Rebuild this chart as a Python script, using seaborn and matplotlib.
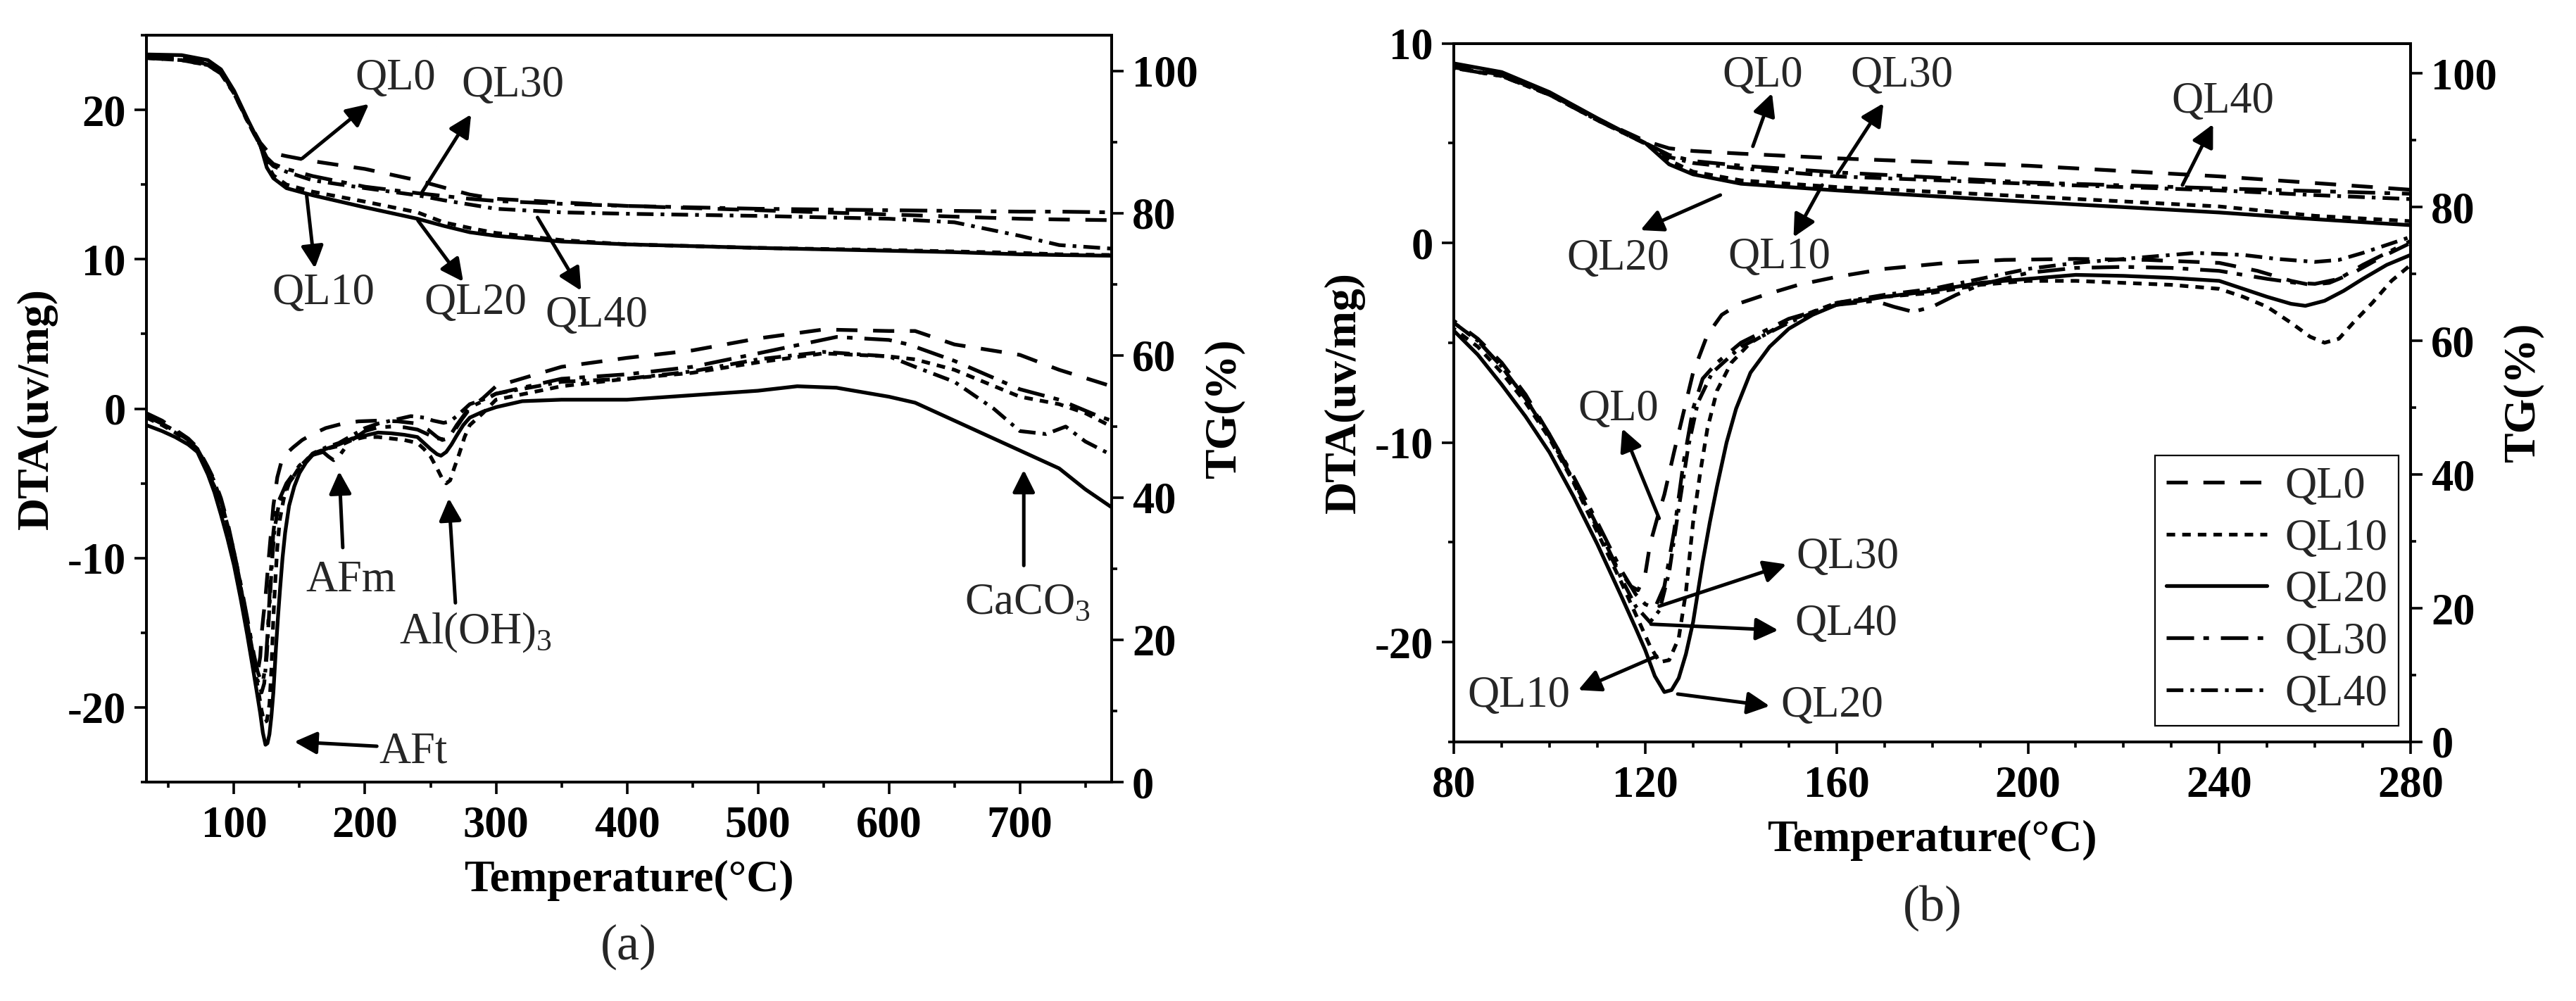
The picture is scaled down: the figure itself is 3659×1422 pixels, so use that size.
import numpy as np
import pandas as pd
import seaborn as sns
import matplotlib.pyplot as plt
from matplotlib.lines import Line2D
from matplotlib.ticker import MultipleLocator

samples = ['QL0', 'QL10', 'QL20', 'QL30', 'QL40']

# DTA curves (uv/mg)
dta_temp_ql0 = [33, 45, 55, 65, 72, 80, 85, 90, 95, 100, 105, 110, 114, 117, 118.5, 120, 121, 122.5,
                124, 126, 128, 130, 133, 136, 140, 145, 152, 160, 170, 183, 195, 210, 225, 240, 248,
                255, 259, 263, 268, 274, 280, 290, 300, 350, 400, 450, 500, 550, 600, 620, 650, 700,
                730, 770]
dta_ql0 = [-0.3, -0.8, -1.4, -2.0, -2.6, -3.9, -4.8, -6.0, -7.6, -9.6, -11.8, -14.2, -16.2, -17.2,
           -17.4, -16.6, -15.1, -13.8, -12.6, -10.5, -8.5, -6.5, -4.6, -3.6, -3.0, -2.6, -2.1, -1.7,
           -1.3, -1.0, -0.85, -0.8, -0.85, -1.0, -1.4, -1.9, -2.1, -2.0, -1.5, -0.7, 0.0, 0.7, 1.5,
           2.8, 3.4, 3.9, 4.7, 5.3, 5.2, 5.2, 4.3, 3.6, 2.6, 1.5]

dta_temp_ql10 = [33, 45, 55, 65, 72, 80, 85, 90, 95, 100, 105, 110, 115, 118, 121, 123, 125, 127,
                 128.5, 130, 131.5, 133, 135, 138, 142, 150, 160, 170, 180, 190, 200, 210, 220, 230,
                 240, 245, 250, 255, 259, 262, 265, 268, 272, 276, 280, 290, 300, 350, 400, 450, 500,
                 550, 600, 620, 650, 700, 730, 750, 770]
dta_ql10 = [-0.6, -1.1, -1.6, -2.2, -2.8, -4.3, -5.2, -6.5, -8.0, -9.8, -12.0, -14.5, -17.0, -18.6,
            -20.2, -21.0, -20.9, -19.8, -17.5, -14.0, -11.5, -9.3, -7.4, -6.0, -5.0, -3.9, -3.0,
            -2.7, -2.5, -2.1, -1.9, -1.9, -2.0, -2.1, -2.3, -2.7, -3.2, -4.0, -4.7, -5.0, -4.8, -4.0,
            -3.0, -1.9, -1.1, -0.3, 0.6, 1.5, 2.0, 2.4, 3.1, 3.7, 3.5, 3.3, 2.6, 0.8, 0.3, -0.3, -1.2]

dta_temp_ql20 = [33, 45, 55, 65, 72, 80, 85, 90, 95, 100, 105, 110, 115, 118, 120, 122, 124, 125.5,
                 127, 128.5, 130, 131, 132, 133.5, 135, 137, 139, 142, 146, 150, 155, 160, 170, 180,
                 190, 200, 210, 220, 230, 240, 245, 250, 255, 258, 262, 266, 270, 275, 280, 290, 300,
                 320, 350, 400, 450, 500, 530, 560, 580, 600, 620, 650, 680, 700, 730, 750, 770]
dta_ql20 = [-1.1, -1.5, -1.9, -2.4, -2.9, -4.4, -5.6, -7.1, -8.7, -10.5, -12.7, -15.1, -17.7, -19.3,
            -20.4, -21.7, -22.5, -22.4, -21.8, -20.6, -19.0, -17.5, -16.0, -14.0, -12.2, -10.0, -8.3,
            -6.5, -5.2, -4.3, -3.6, -3.1, -2.7, -2.4, -2.0, -1.8, -1.6, -1.65, -1.75, -1.9, -2.3,
            -2.7, -3.05, -3.15, -2.9, -2.4, -1.8, -1.1, -0.6, -0.2, 0.1, 0.5, 0.6, 0.6, 0.9, 1.2,
            1.5, 1.4, 1.1, 0.8, 0.4, -0.8, -2.0, -2.8, -4.0, -5.4, -6.6]

dta_temp_ql30 = [33, 45, 55, 65, 72, 80, 85, 90, 95, 100, 105, 110, 115, 118, 120, 122, 124, 126,
                 128, 130, 132, 135, 140, 150, 160, 168, 172, 176, 180, 185, 190, 200, 210, 220, 230,
                 240, 250, 256, 260, 265, 270, 275, 280, 290, 300, 350, 400, 450, 500, 560, 600, 615,
                 650, 700, 730, 760, 770]
dta_ql30 = [-0.5, -1.0, -1.5, -2.1, -2.7, -4.0, -4.9, -6.2, -7.8, -9.6, -11.7, -14.0, -16.4, -17.6,
            -18.1, -18.3, -17.2, -14.5, -11.0, -8.3, -6.8, -6.0, -5.0, -3.8, -3.1, -2.9, -3.2, -3.45,
            -3.2, -2.6, -2.1, -1.5, -1.25, -1.2, -1.25, -1.4, -1.8, -2.0, -2.05, -1.8, -1.1, -0.5,
            0.1, 0.5, 1.0, 2.0, 2.3, 2.8, 3.7, 4.8, 4.6, 4.3, 3.2, 1.3, 0.6, -0.5, -0.8]

dta_temp_ql40 = [33, 45, 55, 65, 72, 80, 85, 90, 95, 100, 105, 110, 115, 118, 121, 123, 125, 127,
                 129, 131, 134, 140, 150, 160, 170, 180, 190, 200, 210, 220, 235, 245, 252, 260, 265,
                 270, 275, 280, 290, 300, 350, 400, 450, 500, 550, 600, 620, 650, 680, 700, 720, 735,
                 750, 770]
dta_ql40 = [-0.5, -1.0, -1.5, -2.1, -2.7, -4.0, -4.9, -6.2, -7.8, -9.7, -11.9, -14.3, -16.8, -18.2,
            -19.0, -18.4, -16.5, -13.3, -10.2, -8.0, -6.5, -5.2, -4.0, -3.0, -2.6, -2.3, -1.8, -1.3,
            -1.0, -0.8, -0.5, -0.6, -0.8, -0.95, -0.85, -0.5, -0.1, 0.3, 0.6, 1.0, 1.8, 2.0, 2.5,
            3.3, 3.8, 3.5, 2.8, 1.8, 0.0, -1.5, -1.7, -1.2, -2.2, -3.1]

# TG curves (%), one temperature grid for all samples
tg_temp = [33, 60, 80, 90, 100, 110, 120, 125, 130, 140, 160, 200, 240, 260, 280, 300, 350, 400,
           500, 600, 650, 700, 730, 770]
tg_ql0 = [102.0, 101.8, 101.0, 99.8, 97.0, 93.2, 89.9, 88.8, 88.4, 88.0, 87.3, 86.2, 84.6, 83.6,
          82.6, 82.0, 81.5, 81.0, 80.4, 79.8, 79.5, 79.2, 79.1, 79.0]
tg_ql10 = [101.8, 101.5, 100.8, 99.6, 96.8, 93.0, 89.5, 87.0, 85.3, 84.0, 83.0, 81.6, 80.1, 78.7,
           77.9, 77.2, 76.2, 75.6, 75.1, 74.8, 74.6, 74.4, 74.2, 74.1]
tg_ql20 = [102.3, 102.2, 101.5, 100.2, 97.2, 93.3, 89.6, 86.4, 84.9, 83.5, 82.5, 80.8, 79.2, 78.2,
           77.3, 76.8, 76.0, 75.6, 75.1, 74.7, 74.5, 74.2, 74.1, 74.0]
tg_ql30 = [102.0, 101.7, 100.9, 99.7, 96.9, 93.1, 89.6, 87.8, 86.9, 86.2, 85.2, 83.7, 82.8, 82.4,
           82.0, 81.7, 81.3, 81.0, 80.6, 80.4, 80.3, 80.2, 80.2, 80.1]
tg_ql40 = [101.8, 101.5, 100.8, 99.6, 96.8, 93.0, 89.5, 87.5, 86.6, 85.8, 84.6, 83.5, 82.5, 81.8,
           81.2, 80.6, 80.1, 79.9, 79.6, 79.2, 78.7, 76.8, 75.5, 75.0]

dta_temps = [dta_temp_ql0, dta_temp_ql10, dta_temp_ql20, dta_temp_ql30, dta_temp_ql40]
dta_values = [dta_ql0, dta_ql10, dta_ql20, dta_ql30, dta_ql40]
tg_values = [tg_ql0, tg_ql10, tg_ql20, tg_ql30, tg_ql40]

dta = pd.concat([pd.DataFrame({'temp': t, 'value': v, 'sample': s})
                 for s, t, v in zip(samples, dta_temps, dta_values)], ignore_index=True)
tg = pd.concat([pd.DataFrame({'temp': tg_temp, 'value': v, 'sample': s})
                for s, v in zip(samples, tg_values)], ignore_index=True)

# dash patterns in units of line width
dash_styles = {
    'QL0': (5.7, 4.2),
    'QL10': (2.3, 1.9),
    'QL20': '',
    'QL30': (7.4, 2.5, 1.5, 3.2),
    'QL40': (4.5, 1.9, 1.0, 1.9),
}
LW = 3.8

sns.set_theme(style='ticks', rc={
    'axes.linewidth': 2.8,
    'xtick.major.width': 2.6, 'ytick.major.width': 2.6,
    'xtick.minor.width': 2.6, 'ytick.minor.width': 2.6,
    'xtick.major.size': 12, 'ytick.major.size': 12,
    'xtick.minor.size': 6, 'ytick.minor.size': 6,
    'xtick.color': 'black', 'ytick.color': 'black',
    'axes.edgecolor': 'black', 'axes.labelcolor': 'black',
    'axes.unicode_minus': False,
})
plt.rcParams['font.family'] = ['Liberation Serif', 'DejaVu Serif']
plt.rcParams['font.weight'] = 'bold'
plt.rcParams['axes.labelweight'] = 'bold'
plt.rcParams['mathtext.fontset'] = 'custom'
plt.rcParams['mathtext.rm'] = 'Liberation Serif'

TICK_FS = 45
LABEL_FS = 46
NOTE_FS = 45

fig = plt.figure(figsize=(36.59, 14.22), dpi=100)
ax_a = fig.add_axes([0.0568, 0.2187, 0.3747, 0.7461])
ax_b = fig.add_axes([0.5644, 0.2588, 0.3714, 0.6979])


def draw_panel(ax, xlim, xmajor, xminor, ylim, tglim):
    sns.lineplot(data=dta, x='temp', y='value', hue='sample', style='sample',
                 palette=['black'] * 5, dashes=dash_styles, estimator=None, sort=False,
                 lw=LW, legend=False, ax=ax)
    ax2 = ax.twinx()
    sns.lineplot(data=tg, x='temp', y='value', hue='sample', style='sample',
                 palette=['black'] * 5, dashes=dash_styles, estimator=None, sort=False,
                 lw=LW, legend=False, ax=ax2)
    ax.set_xlim(*xlim)
    ax.set_ylim(*ylim)
    ax2.set_ylim(*tglim)
    ax.xaxis.set_major_locator(MultipleLocator(xmajor))
    ax.xaxis.set_minor_locator(MultipleLocator(xminor))
    ax.yaxis.set_major_locator(MultipleLocator(10))
    ax.yaxis.set_minor_locator(MultipleLocator(5))
    ax2.yaxis.set_major_locator(MultipleLocator(20))
    ax2.yaxis.set_minor_locator(MultipleLocator(10))
    for a in (ax, ax2):
        a.tick_params(which='both', direction='out', labelsize=TICK_FS, pad=9)
        for sp in a.spines.values():
            sp.set_visible(True)
            sp.set_linewidth(2.8)
    ax.tick_params(axis='x', pad=12)
    ax.set_xlabel('Temperature(°C)', fontsize=LABEL_FS, labelpad=14)
    ax.set_ylabel('DTA(uv/mg)', fontsize=LABEL_FS, labelpad=10)
    ax2.set_ylabel('TG(%)', fontsize=LABEL_FS, labelpad=6)
    return ax2


tg_a = draw_panel(ax_a, (33, 770), 100, 50, (-25, 25), (0, 105))
tg_b = draw_panel(ax_b, (80, 280), 40, 10, (-25, 10), (0, 104.5))

arrow_kw = dict(arrowstyle='-|>', lw=3.6, color='black', mutation_scale=48,
                shrinkA=0, shrinkB=0)

# (label, label position, arrow tail, arrow head) in DTA data units
notes_a = [
    ('QL0', (223, 22.1), (152, 16.75), (203, 20.4)),
    ('QL30', (313, 21.6), (243.6, 14.5), (281, 19.7)),
    ('QL10', (168, 7.7), (155.4, 14.3), (161.7, 9.4)),
    ('QL20', (284.5, 7.05), (240.4, 12.6), (275, 8.5)),
    ('QL40', (377, 6.2), (331.7, 12.8), (365, 7.9)),
    ('AFm', (189.5, -11.5), (183, -9.3), (180.3, -4.2)),
    ('Al(OH)$_\\mathregular{3}$', (284.5, -15.0), (269, -13.0), (264, -6.0)),
    ('CaCO$_\\mathregular{3}$', (706, -13.0), (703, -10.5), (703, -4.1)),
    ('AFt', (237, -23.0), (209, -22.6), (146, -22.3)),
]
notes_b = [
    ('QL0', (144.5, 8.37), (142.5, 4.84), (146.5, 7.5)),
    ('QL30', (173.6, 8.37), (160.2, 3.46), (169.8, 7.0)),
    ('QL10', (148, -0.74), (157, 2.9), (151, 0.29)),
    ('QL20', (114.3, -0.8), (135.7, 2.4), (119, 0.64)),
    ('QL40', (240.7, 7.07), (232.3, 2.9), (238.7, 5.95)),
    ('QL0', (114.3, -8.36), (122.9, -13.8), (115.2, -9.3)),
    ('QL30', (162.3, -15.75), (122.9, -18.2), (149.5, -16.1)),
    ('QL40', (162, -19.1), (121.2, -19.1), (147.8, -19.4)),
    ('QL10', (93.5, -22.7), (122.4, -20.7), (106, -22.4)),
    ('QL20', (159, -23.2), (126.8, -22.6), (146, -23.2)),
]

for ax, notes in ((ax_a, notes_a), (ax_b, notes_b)):
    for label, pos, tail, head in notes:
        ax.annotate('', xy=head, xytext=tail, arrowprops=arrow_kw, zorder=5)
        ax.text(pos[0], pos[1], label, fontsize=NOTE_FS, fontweight='normal',
                ha='center', va='center', zorder=5)

handles = [Line2D([0], [0], color='black', lw=LW,
                  dashes=dash_styles[s] if dash_styles[s] else (None, None))
           for s in samples]
leg = tg_b.legend(handles, samples, loc='lower right', bbox_to_anchor=(0.9875, 0.023),
                  borderaxespad=0, fancybox=False, framealpha=1, edgecolor='black',
                  prop={'size': NOTE_FS, 'weight': 'normal'}, handlelength=2.3,
                  handletextpad=0.4, labelspacing=0.25, borderpad=0.25)
leg.get_frame().set_linewidth(1.6)

fig.text(893 / 3659, 1 - 1345 / 1422, '(a)', fontsize=52, fontweight='normal',
         ha='center', va='center')
fig.text(2745 / 3659, 1 - 1290 / 1422, '(b)', fontsize=52, fontweight='normal',
         ha='center', va='center')

fig.savefig('out.png', dpi=100)
